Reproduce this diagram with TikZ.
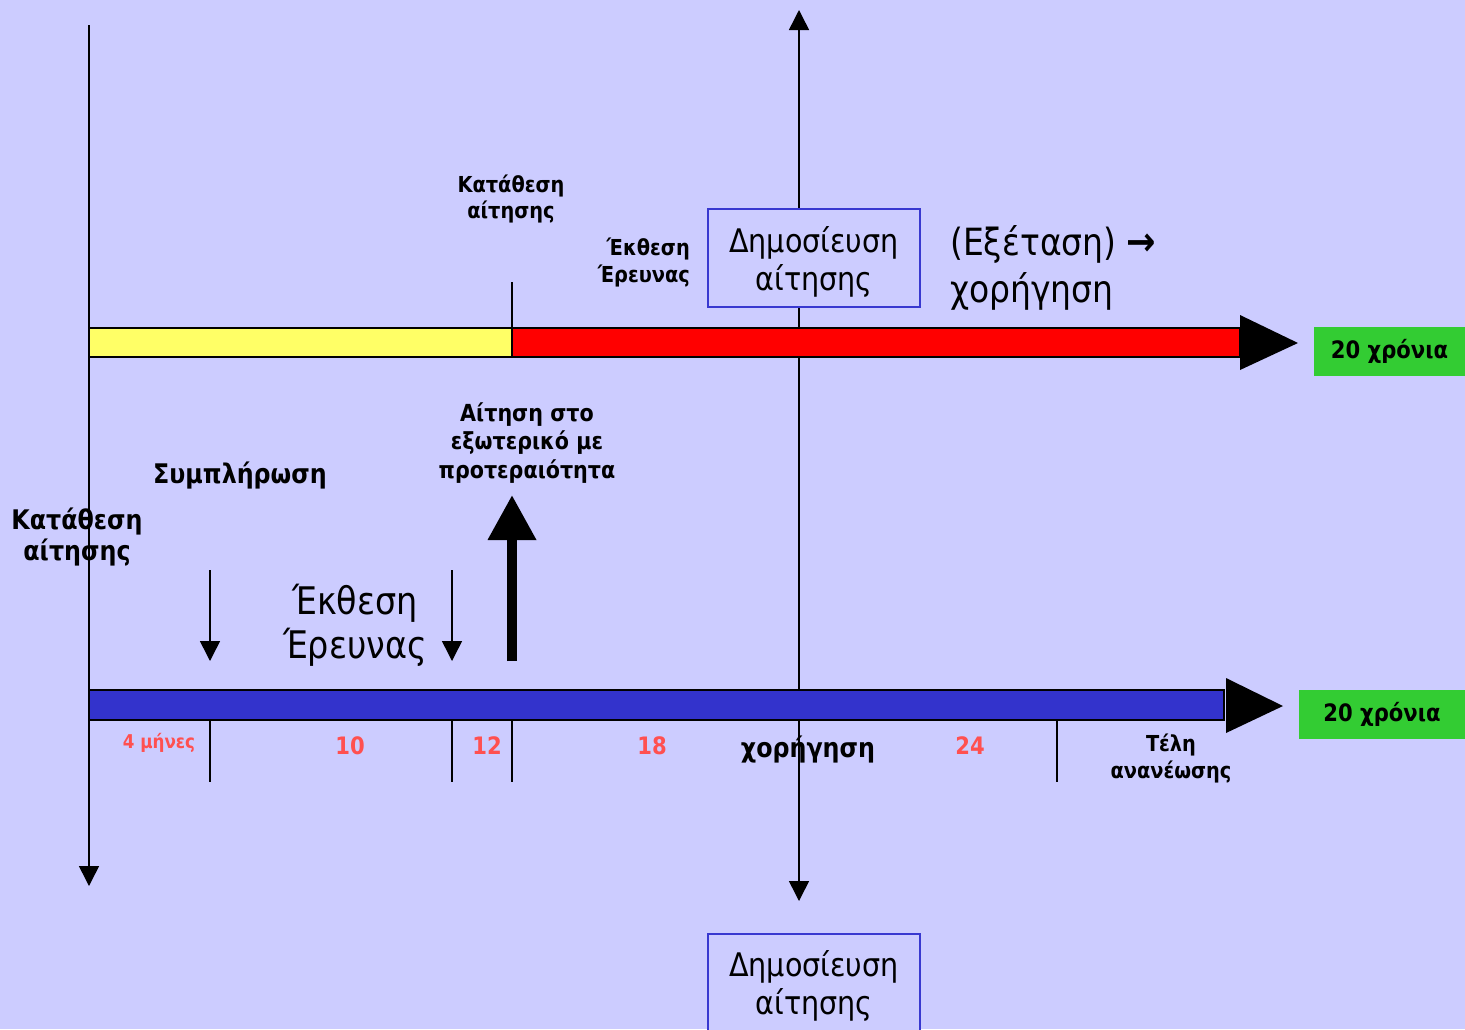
\documentclass[tikz,border=0pt]{standalone}
\usepackage{fontspec}
\setmainfont[FakeStretch=0.88]{DejaVu Sans}
\usetikzlibrary{arrows.meta}
\definecolor{bg}{HTML}{CCCCFF}
\definecolor{barblue}{HTML}{3333CC}
\definecolor{boxblue}{HTML}{3838D0}
\definecolor{lblred}{HTML}{FF5050}
\definecolor{grn}{HTML}{33CC33}
\definecolor{yel}{HTML}{FFFF66}
\tikzset{
  boldtxt/.style args={#1/#2}{font=\bfseries\fontsize{#1}{#2}\selectfont, align=center, inner sep=0pt},
  numtxt/.style={font=\bfseries\fontsize{#1}{#1}\selectfont, text=lblred, inner sep=0pt},
  pubbox/.style={draw=boxblue, line width=1.5pt, fill=bg, minimum width=212pt, minimum height=98pt},
  pubtxt/.style={font=\fontsize{32.5}{38}\selectfont, align=center, inner sep=0pt},
  greenbox/.style={fill=grn, minimum height=49pt, font=\bfseries\fontsize{24}{24}\selectfont, inner sep=0pt},
  thin/.style={line width=1.5pt},
  tipdown/.style={-{Triangle[length=20pt,width=20pt]}},
}
\begin{document}
\begin{tikzpicture}[x=1pt,y=-1pt]
\useasboundingbox (0,0) rectangle (1465,1029);
\fill[bg] (0,0) rectangle (1465,1029);

% coordinates
\coordinate (ltop) at (89,25);
\coordinate (lbot) at (89,886);
\coordinate (mtop) at (799,10);
\coordinate (mbot) at (799,901);

% vertical axes
\draw[thin, -{Triangle[length=20pt,width=20pt]}] (ltop) -- (lbot);
\draw[thin, -{Triangle[length=20pt,width=20pt]}] (799,480) -- (mtop);
\draw[thin, -{Triangle[length=20pt,width=20pt]}] (799,480) -- (mbot);

% top bar
\draw[line width=2pt, fill=yel] (89,328) rectangle (512,357);
\draw[line width=2pt, fill=red] (512,328) rectangle (1240,357);
\fill[black] (1240,315) -- (1298,343) -- (1240,370) -- cycle;
\draw[thin] (512,282) -- (512,328);
\node[greenbox, minimum width=151pt] (g1) at (1389.5,351.5) {20 χρόνια};

% top labels
\node[pubbox] (pub1) at (814,258) {};
\node[pubtxt] (pub1t) at (814,262) {Δημοσίευση\\αίτησης};
\node[font=\fontsize{37.5}{47}\selectfont, align=left, anchor=north west, inner sep=0pt] (exet) at (950,225) {(Εξέταση) {\bfseries\fontsize{40}{40}\selectfont →}\\χορήγηση};
\node[boldtxt=22/26] (kat1) at (511,199) {Κατάθεση\\αίτησης};
\node[boldtxt=22/27, align=right, anchor=east] (ekth1) at (690,262) {Έκθεση\\Έρευνας};

% bottom bar
\draw[line width=2pt, fill=barblue] (89,690) rectangle (1224,720);
\fill[black] (1226,678) -- (1283,706) -- (1226,733) -- cycle;
\node[greenbox, minimum width=166pt] (g2) at (1382,714.5) {20 χρόνια};

% ticks
\foreach \xx in {210,452,512,1057} \draw[thin] (\xx,720) -- (\xx,782);

% bottom tick labels
\node[numtxt=19] (m4) at (159,743) {4 μήνες};
\node[numtxt=24] (n10) at (350,746) {10};
\node[numtxt=24] (n12) at (487,746) {12};
\node[numtxt=24] (n18) at (652,746) {18};
\node[boldtxt=27/27] (xor) at (808,749) {χορήγηση};
\node[numtxt=24] (n24) at (970,746) {24};
\node[boldtxt=22/27] (tel) at (1171,758) {Τέλη\\ανανέωσης};

% middle labels
\node[boldtxt=27/32] (kat2) at (77,537) {Κατάθεση\\αίτησης};
\node[boldtxt=27/27] (symp) at (240,476) {Συμπλήρωση};
\node[boldtxt=23.5/28.5] (ait) at (527,443) {Αίτηση στο\\εξωτερικό με\\προτεραιότητα};
\node[font=\fontsize{38}{44}\selectfont, align=center, inner sep=0pt] (ekth2) at (355,625) {Έκθεση\\Έρευνας};

% arrows in middle
\coordinate (a1s) at (210,570); \coordinate (a1e) at (210,661);
\coordinate (a2s) at (452,570); \coordinate (a2e) at (452,661);
\draw[thin, tipdown] (a1s) -- (a1e);
\draw[thin, tipdown] (a2s) -- (a2e);
\coordinate (bigs) at (512,661); \coordinate (bige) at (512,495);
\draw[line width=10pt, -{Triangle[length=45pt,width=46pt]}] (bigs) -- (bige);

% bottom box
\node[pubbox, anchor=north] (pub2) at (814,933) {};
\node[pubtxt] (pub2t) at (814,986) {Δημοσίευση\\αίτησης};
\end{tikzpicture}
\end{document}
